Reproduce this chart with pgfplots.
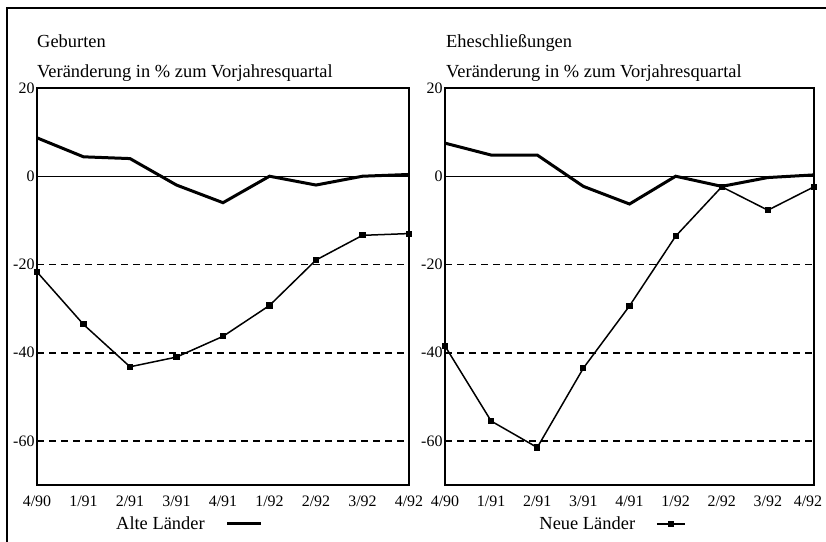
\documentclass[border=0pt]{standalone}
\usepackage{fontspec}
\setmainfont{Liberation Serif}
\usepackage{pgfplots}
\pgfplotsset{compat=1.18}

\pgfplotstableread{
x alt neu
0 8.7 -21.7
1 4.4 -33.6
2 4.0 -43.2
3 -2.0 -41.0
4 -6.0 -36.3
5 0.0 -29.3
6 -2.0 -19.0
7 0.0 -13.4
8 0.4 -13.0
}\geburten

\pgfplotstableread{
x alt neu
0 7.5 -38.5
1 4.8 -55.5
2 4.8 -61.5
3 -2.3 -43.5
4 -6.3 -29.4
5 0.0 -13.6
6 -2.3 -2.4
7 -0.3 -7.7
8 0.3 -2.4
}\ehe

\pgfplotsset{panel/.style={
  scale only axis, height=397bp,
  xmin=0, xmax=8, ymin=-70, ymax=20,
  axis line style={line width=2.4bp},
  xtick={0,...,8},
  ytick={-60,-40,-20,20}, yticklabels={-60,-40,-20,20},
  extra y ticks={0}, extra y tick labels={0},
  extra y tick style={grid=major, major grid style={solid, line width=1.1bp, black}},
  ymajorgrids,
  major grid style={black, line width=1.7bp, dash pattern=on 7bp off 5bp},
  major tick length=0pt,
  tick label style={font=\fontsize{16}{18}\selectfont},
  xticklabel style={yshift=-7bp},
  yticklabel style={xshift=1bp},
  clip=false,
  legend style={draw=none, fill=none, font=\fontsize{18.5}{20}\selectfont,
    column sep=19bp, inner sep=0pt},
  legend plot pos=right,
  altstyle/.style={black, line width=3bp, no markers},
  neustyle/.style={black, line width=1.5bp, mark=square*, mark size=2.3bp},
}}

\begin{document}
\begin{tikzpicture}
\path[use as bounding box] (0bp,0bp) rectangle (826bp,-542bp);
\draw[line width=2bp] (7bp,-542bp) -- (7bp,-8bp) -- (826bp,-8bp);

\node[anchor=base west, inner sep=0pt, font=\fontsize{18.5}{20}\selectfont] at (37bp,-47bp) {Geburten};
\node[anchor=base west, inner sep=0pt, font=\fontsize{18.5}{20}\selectfont] at (37bp,-77bp) {Veränderung in \% zum Vorjahresquartal};
\node[anchor=base west, inner sep=0pt, font=\fontsize{18.5}{20}\selectfont] at (446bp,-47bp) {Eheschließungen};
\node[anchor=base west, inner sep=0pt, font=\fontsize{18.5}{20}\selectfont] at (446bp,-77bp) {Veränderung in \% zum Vorjahresquartal};

\begin{axis}[panel, width=372bp, at={(37bp,-485bp)}, anchor=south west,
  xticklabels={4/90,1/91,2/91,3/91,4/91,1/92,2/92,3/92,4/92},
  legend style={at={(0.207,-0.098)}, anchor=west},
  legend image code/.code={\draw[#1] (0bp,0bp) -- (34bp,0bp);}]
\addplot[altstyle] table[x=x, y=alt] {\geburten};
\addlegendentry{Alte Länder}
\addplot[neustyle, forget plot] table[x=x, y=neu] {\geburten};
\end{axis}

\begin{axis}[panel, width=369bp, at={(445bp,-485bp)}, anchor=south west,
  xticklabels={4/90,1/91,2/91,3/91,4/91,1/92,2/92,3/92,\hspace*{-12bp}4/92},
  legend style={at={(0.25,-0.098)}, anchor=west},
  legend image code/.code={\draw[mark repeat=2,mark phase=2,#1] plot coordinates {(0bp,0bp) (14bp,0bp) (28bp,0bp)};}]
\addplot[altstyle, forget plot] table[x=x, y=alt] {\ehe};
\addplot[neustyle] table[x=x, y=neu] {\ehe};
\addlegendentry{Neue Länder}
\end{axis}
\end{tikzpicture}
\end{document}
